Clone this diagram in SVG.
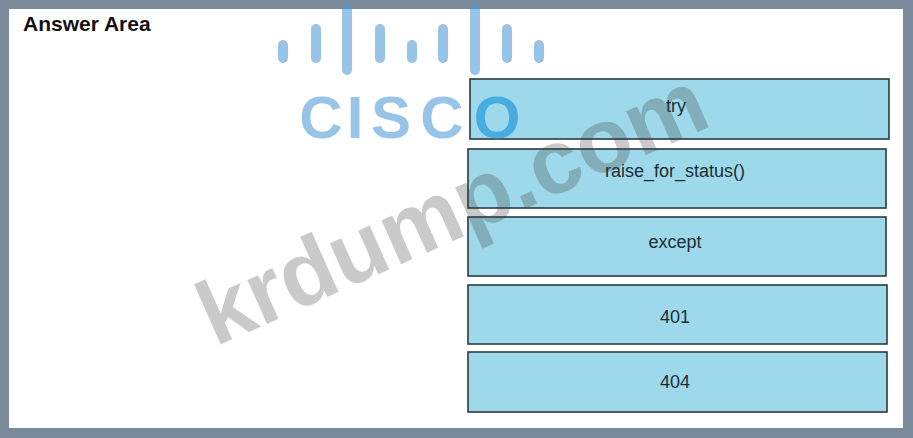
<svg xmlns="http://www.w3.org/2000/svg" width="913" height="438" viewBox="0 0 913 438">
<style>
.box{fill:#9dd9ea;stroke:#2c3a40;stroke-width:1.6}
.lbl{font-family:"Liberation Sans",Arial,sans-serif;font-size:18px;fill:#1e2d33;text-anchor:middle}
.bar{fill:#4b9ad6;opacity:0.58}
.logo{font-family:"Liberation Sans",Arial,sans-serif;font-weight:bold;font-size:60px;fill:#4b9ad6;fill-opacity:0.58;text-anchor:middle}
</style>
<rect x="0" y="0" width="913" height="438" fill="#7a8a9b"/>
<rect x="9" y="9" width="894" height="419" fill="#ffffff"/>
<text x="23" y="31" font-family="'Liberation Sans',Arial,sans-serif" font-weight="bold" font-size="21" fill="#111">Answer Area</text>
<g id="n-try"><rect class="box" x="470" y="79" width="419" height="60"/><text class="lbl" x="676" y="112">try</text></g>
<g id="n-raise"><rect class="box" x="468" y="149" width="418" height="59"/><text class="lbl" x="675" y="177">raise_for_status()</text></g>
<g id="n-except"><rect class="box" x="468" y="217" width="418" height="59"/><text class="lbl" x="675" y="248">except</text></g>
<g id="n-401"><rect class="box" x="468" y="285" width="419" height="59"/><text class="lbl" x="675" y="323">401</text></g>
<g id="n-404"><rect class="box" x="468" y="352" width="419" height="60"/><text class="lbl" x="675" y="388">404</text></g>
<g id="connectors"></g>
<g id="cisco-logo">
<rect class="bar" x="278" y="40" width="10" height="23" rx="5"/>
<rect class="bar" x="311" y="24" width="10" height="39" rx="5"/>
<rect class="bar" x="342" y="3" width="10" height="72" rx="5"/>
<rect class="bar" x="375" y="24" width="10" height="39" rx="5"/>
<rect class="bar" x="407" y="40" width="10" height="23" rx="5"/>
<rect class="bar" x="438" y="24" width="10" height="39" rx="5"/>
<rect class="bar" x="470" y="3" width="10" height="72" rx="5"/>
<rect class="bar" x="502" y="24" width="10" height="39" rx="5"/>
<rect class="bar" x="534" y="40" width="10" height="23" rx="5"/>
<text class="logo" x="321" y="138">C</text>
<text class="logo" x="355" y="138">I</text>
<text class="logo" x="391" y="138">S</text>
<text class="logo" x="442" y="138">C</text>
<text class="logo" x="497" y="138" style="fill:#3ea6de;fill-opacity:0.9">O</text>
</g>
<text x="215" y="347" transform="rotate(-24 215 347)" font-family="'Liberation Sans',Arial,sans-serif" font-weight="bold" font-size="91" fill="#3a3a3a" fill-opacity="0.27">krdump.com</text>
</svg>
